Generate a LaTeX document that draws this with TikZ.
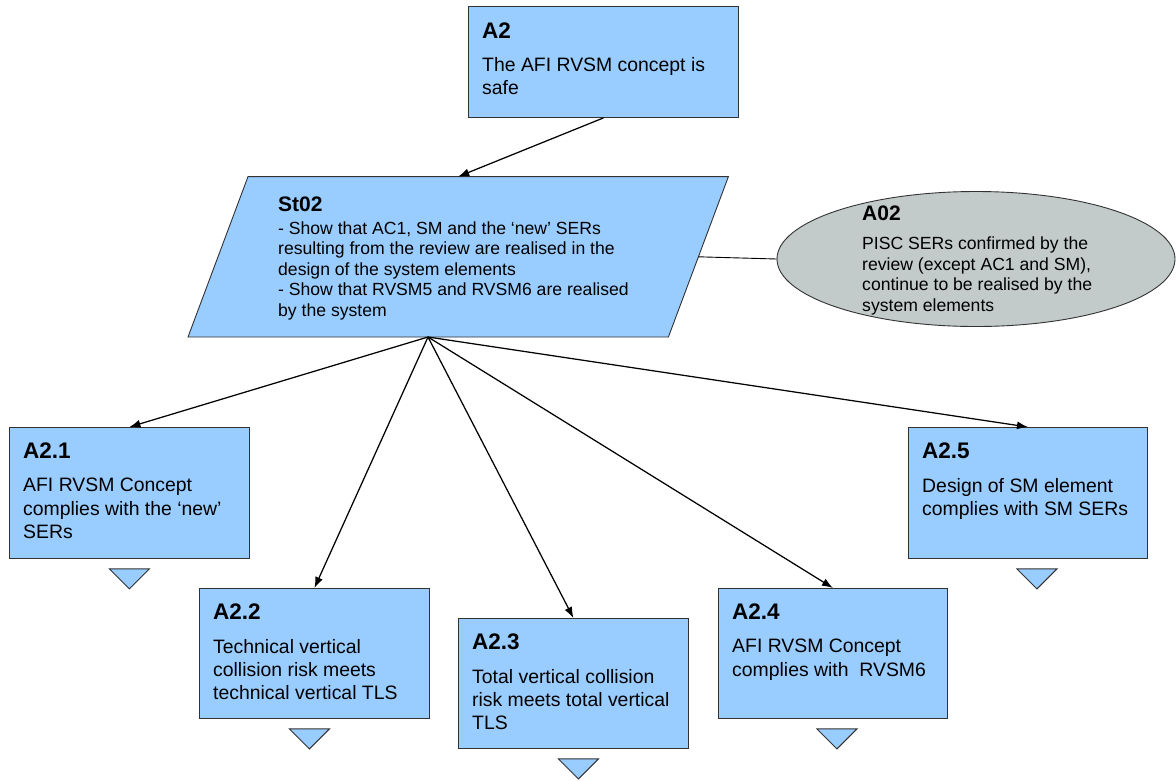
\documentclass[tikz,border=0pt]{standalone}
\usepackage{fontspec}
\setmainfont{Liberation Sans}
\usetikzlibrary{arrows.meta,shapes.geometric,calc}
\definecolor{goalblue}{RGB}{153,204,255}
\definecolor{assumgray}{RGB}{194,202,202}
\definecolor{edgegray}{RGB}{50,50,50}
\newcommand\gtitle{\fontsize{22.5}{27}\selectfont\bfseries}
\newcommand\gbody{\fontsize{19.4}{23.3}\selectfont}
\newcommand\stitle{\fontsize{21}{25}\selectfont\bfseries}
\newcommand\sbody{\fontsize{17.6}{20.4}\selectfont}
\begin{document}
\begin{tikzpicture}[x=1pt,y=-1pt,
  goalbox/.style={draw=edgegray, line width=0.9pt, fill=goalblue, inner sep=0pt, anchor=north west},
  txt/.style={inner sep=0pt, anchor=north west, align=left},
  link/.style={draw=black, line width=1.25pt, -{Latex[length=11pt,width=8pt]}},
  plain/.style={draw=black, line width=0.9pt},
  undev/.style={draw=edgegray, line width=0.9pt, fill=goalblue},
  stratshape/.style={draw=edgegray, fill=goalblue, line width=0.9pt},
]
\useasboundingbox (0,0) rectangle (1176,780);

% top goal
\node[goalbox, minimum width=270pt, minimum height=111pt] (a2) at (468,6) {};
\node[txt, font=\gtitle] (a2t) at ($(a2.north west)+(14,17)$) {A2};
\node[txt, font=\gbody] (a2b) at ($(a2.north west)+(14,51)$) {The AFI RVSM concept is\\safe};

% strategy (parallelogram over its bounding node)
\node[inner sep=0pt, minimum width=540pt, minimum height=160pt, anchor=south west] (st) at (188,337) {};
\draw[stratshape] (st.south west) -- ($(st.south east)+(-60,0)$) -- (st.north east)
  -- ($(st.north west)+(60,0)$) -- cycle;
\coordinate (sttop) at (st.north);
\coordinate (stbot) at ($(st.south west)+(240,0)$);
\coordinate (stright) at ($(st.east)+(-30,0)$);
\node[txt, font=\stitle] (stt) at ($(st.north west)+(90,20)$) {St02};
\node[txt, font=\sbody] (stb) at ($(st.north west)+(90,45)$)
  {- Show that AC1, SM and the ‘new’ SERs\\resulting from the review are realised in the\\design of the system elements\\- Show that RVSM5 and RVSM6 are realised\\by the system};

% assumption
\node[ellipse, draw=edgegray, fill=assumgray, line width=0.9pt,
      minimum width=398pt, minimum height=135pt, inner sep=0pt] (a02) at (976,259) {};
\node[txt, font=\stitle] (a02t) at ($(a02.center)+(-114,-53)$) {A02};
\node[txt, font=\sbody] (a02b) at ($(a02.center)+(-114,-22)$)
  {PISC SERs confirmed by the\\review (except AC1 and SM),\\continue to be realised by the\\system elements};

% sub goals
\node[goalbox, minimum width=240pt, minimum height=131pt] (a21) at (9,427) {};
\node[txt, font=\gtitle] (a21t) at ($(a21.north west)+(14,16)$) {A2.1};
\node[txt, font=\gbody] (a21b) at ($(a21.north west)+(14,51)$) {AFI RVSM Concept\\complies with the ‘new’\\SERs};

\node[goalbox, minimum width=230pt, minimum height=130pt] (a22) at (199,588) {};
\node[txt, font=\gtitle] (a22t) at ($(a22.north west)+(14,16)$) {A2.2};
\node[txt, font=\gbody] (a22b) at ($(a22.north west)+(14,51)$) {Technical vertical\\collision risk meets\\technical vertical TLS};

\node[goalbox, minimum width=230pt, minimum height=130pt] (a23) at (458,618) {};
\node[txt, font=\gtitle] (a23t) at ($(a23.north west)+(14,16)$) {A2.3};
\node[txt, font=\gbody] (a23b) at ($(a23.north west)+(14,51)$) {Total vertical collision\\risk meets total vertical\\TLS};

\node[goalbox, minimum width=229pt, minimum height=130pt] (a24) at (718,588) {};
\node[txt, font=\gtitle] (a24t) at ($(a24.north west)+(14,16)$) {A2.4};
\node[txt, font=\gbody] (a24b) at ($(a24.north west)+(14,51)$) {AFI RVSM Concept\\complies with~~RVSM6};

\node[goalbox, minimum width=239pt, minimum height=131pt] (a25) at (908,427) {};
\node[txt, font=\gtitle] (a25t) at ($(a25.north west)+(14,16)$) {A2.5};
\node[txt, font=\gbody] (a25b) at ($(a25.north west)+(14,51)$) {Design of SM element\\complies with SM SERs};

% undeveloped markers
\draw[undev] ($(a21.south)+(-20,10)$) -- ++(40,0) -- ++(-20,20) -- cycle;
\draw[undev] ($(a22.south)+(-25,10)$) -- ++(40,0) -- ++(-20,20) -- cycle;
\draw[undev] ($(a23.south)+(-15,10)$) -- ++(40,0) -- ++(-20,20) -- cycle;
\draw[undev] ($(a24.south)+(-16,10)$) -- ++(40,0) -- ++(-20,20) -- cycle;
\draw[undev] ($(a25.south)+(-11,10)$) -- ++(40,0) -- ++(-20,20) -- cycle;

% connectors
\draw[link] (a2.south) -- (sttop);
\draw[plain] (stright) -- (a02.west);
\foreach \t in {a21,a22,a23,a24,a25}
  \draw[link] (stbot) -- (\t.north);
\end{tikzpicture}
\end{document}
